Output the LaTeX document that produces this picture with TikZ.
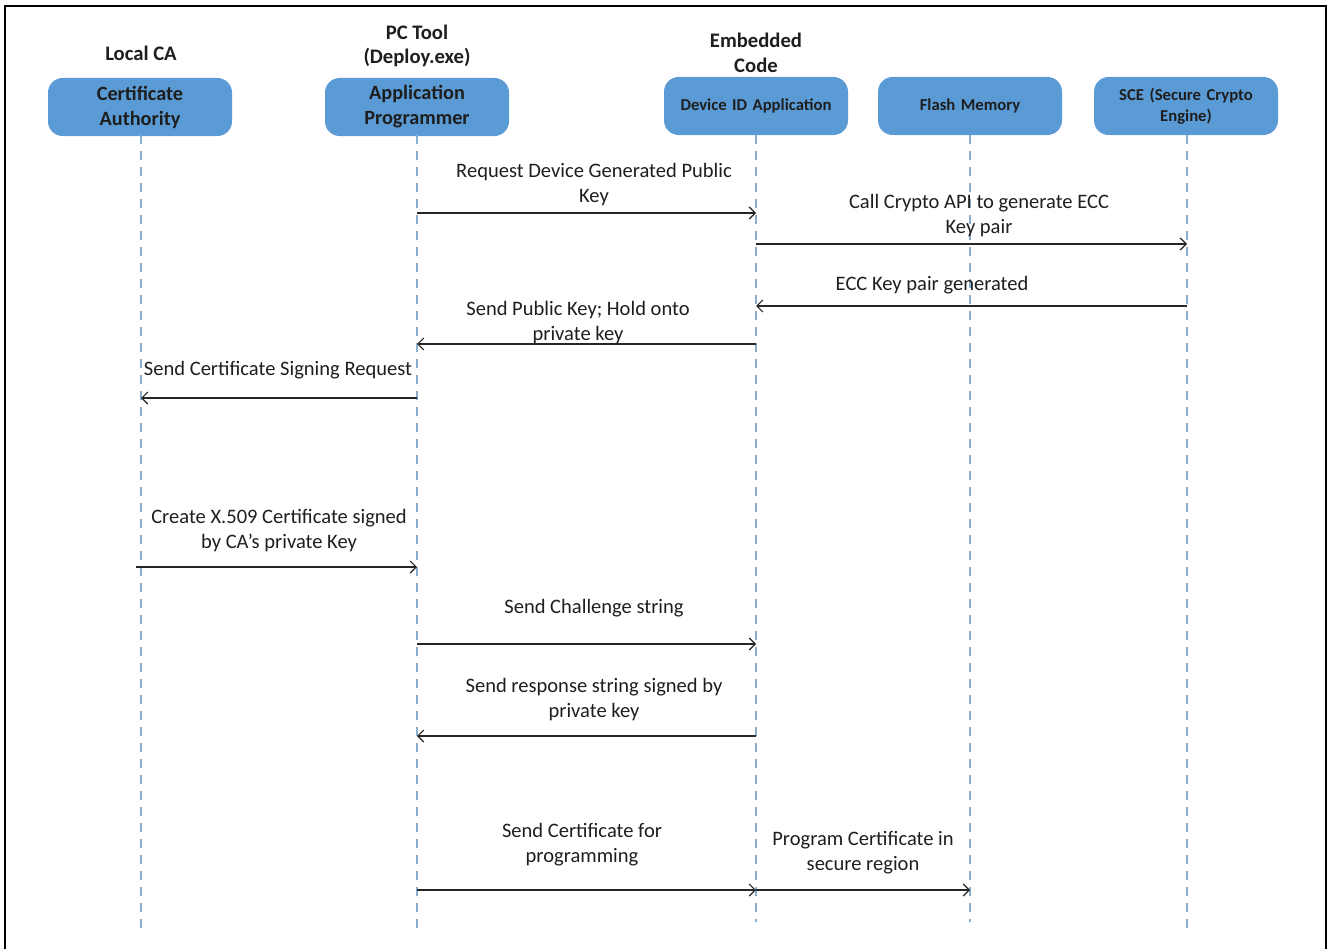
\documentclass[tikz,border=0pt]{standalone}
\usepackage{fontspec}
\setmainfont{Carlito}
\usetikzlibrary{arrows.meta}
\definecolor{boxblue}{HTML}{5B9BD5}
\definecolor{lifeblue}{HTML}{8AAECF}
\definecolor{txt}{HTML}{1E1E1E}
\begin{document}
\begin{tikzpicture}[x=0.75pt,y=-0.75pt,
  actor/.style={draw=none,fill=boxblue,rounded corners=11pt,minimum width=138pt,minimum height=43.5pt,
     text width=134pt,align=center,font=\bfseries\fontsize{15.2}{18.75}\selectfont,text=txt,inner sep=0pt},
  actorsmall/.style={actor,font=\bfseries\fontsize{12.5}{15.5}\selectfont},
  header/.style={font=\bfseries\fontsize{15.5}{18.5}\selectfont,align=center,text=txt},
  lifeline/.style={draw=lifeblue,line width=0.9pt,dash pattern=on 7pt off 5pt},
  msg/.style={draw=black!85,line width=0.9pt,-{Straight Barb[length=4.5pt,width=9pt,line width=0.9pt]}},
  lbl/.style={font=\fontsize{15.4}{18.75}\selectfont,align=center,text=txt,inner sep=0pt}]
\useasboundingbox (0,0) rectangle (1328,949);
\draw[line width=2.2pt] (5,949) -- (5,6) -- (1326,6) -- (1326,949);

% headers
\node[header] (hca) at (141,53) {Local CA};
\node[header] (hpc) at (417,46) {PC Tool\\(Deploy.exe)};
\node[header] (hemb) at (756,53) {Embedded\\Code};

% actors
\node[actor] (ca) at (140,107) {Certificate\\Authority};
\node[actor] (app) at (417,107) {Application\\Programmer};
\node[actorsmall] (dev) at (756,106) {\raisebox{-2.5pt}{Device ID Application}};
\node[actorsmall] (fl) at (970,106) {\raisebox{-2.5pt}{Flash Memory}};
\node[actorsmall] (sce) at (1186,106) {SCE (Secure Crypto\\Engine)};

% lifeline ends
\coordinate (caE) at (141,928);
\coordinate (appE) at (417,928);
\coordinate (devE) at (756,922);
\coordinate (flE) at (970,922);
\coordinate (sceE) at (1187,928);
\coordinate (caT) at (141,135);
\coordinate (appT) at (417,135);
\coordinate (devT) at (756,135);
\coordinate (flT) at (970,135);
\coordinate (sceT) at (1187,135);
\draw[lifeline] (caT) -- (caE);
\draw[lifeline] (appT) -- (appE);
\draw[lifeline] (devT) -- (devE);
\draw[lifeline] (flT) -- (flE);
\draw[lifeline] (sceT) -- (sceE);

% messages
\draw[msg] (appT |- 0,213) -- (devT |- 0,213);
\node[lbl] (l1) at (594,185) {Request Device Generated Public\\Key};

\draw[msg] (devT |- 0,244) -- (sceT |- 0,244);
\node[lbl] (l2) at (979,216) {Call Crypto API to generate ECC\\Key pair};

\draw[msg] (sceT |- 0,306) -- (devT |- 0,306);
\node[lbl] (l3) at (932,285) {ECC Key pair generated};

\draw[msg] (devT |- 0,344) -- (appT |- 0,344);
\node[lbl] (l4) at (578,323) {Send Public Key; Hold onto\\private key};

\draw[msg] (appT |- 0,398) -- (caT |- 0,398);
\node[lbl] (l5) at (278,370) {Send Certificate Signing Request};

\coordinate (caS) at (136,567);
\draw[msg] (caS) -- (appT |- 0,567);
\node[lbl] (l6) at (279,531) {Create X.509 Certificate signed\\by CA’s private Key};

\draw[msg] (appT |- 0,644) -- (devT |- 0,644);
\node[lbl] (l7) at (594,608) {Send Challenge string};

\draw[msg] (devT |- 0,736) -- (appT |- 0,736);
\node[lbl] (l8) at (594,700) {Send response string signed by\\private key};

\draw[msg] (appT |- 0,890) -- (devT |- 0,890);
\node[lbl] (l9) at (582,845) {Send Certificate for\\programming};

\draw[msg] (devT |- 0,890) -- (flT |- 0,890);
\node[lbl] (l10) at (863,853) {Program Certificate in\\secure region};
\end{tikzpicture}
\end{document}
